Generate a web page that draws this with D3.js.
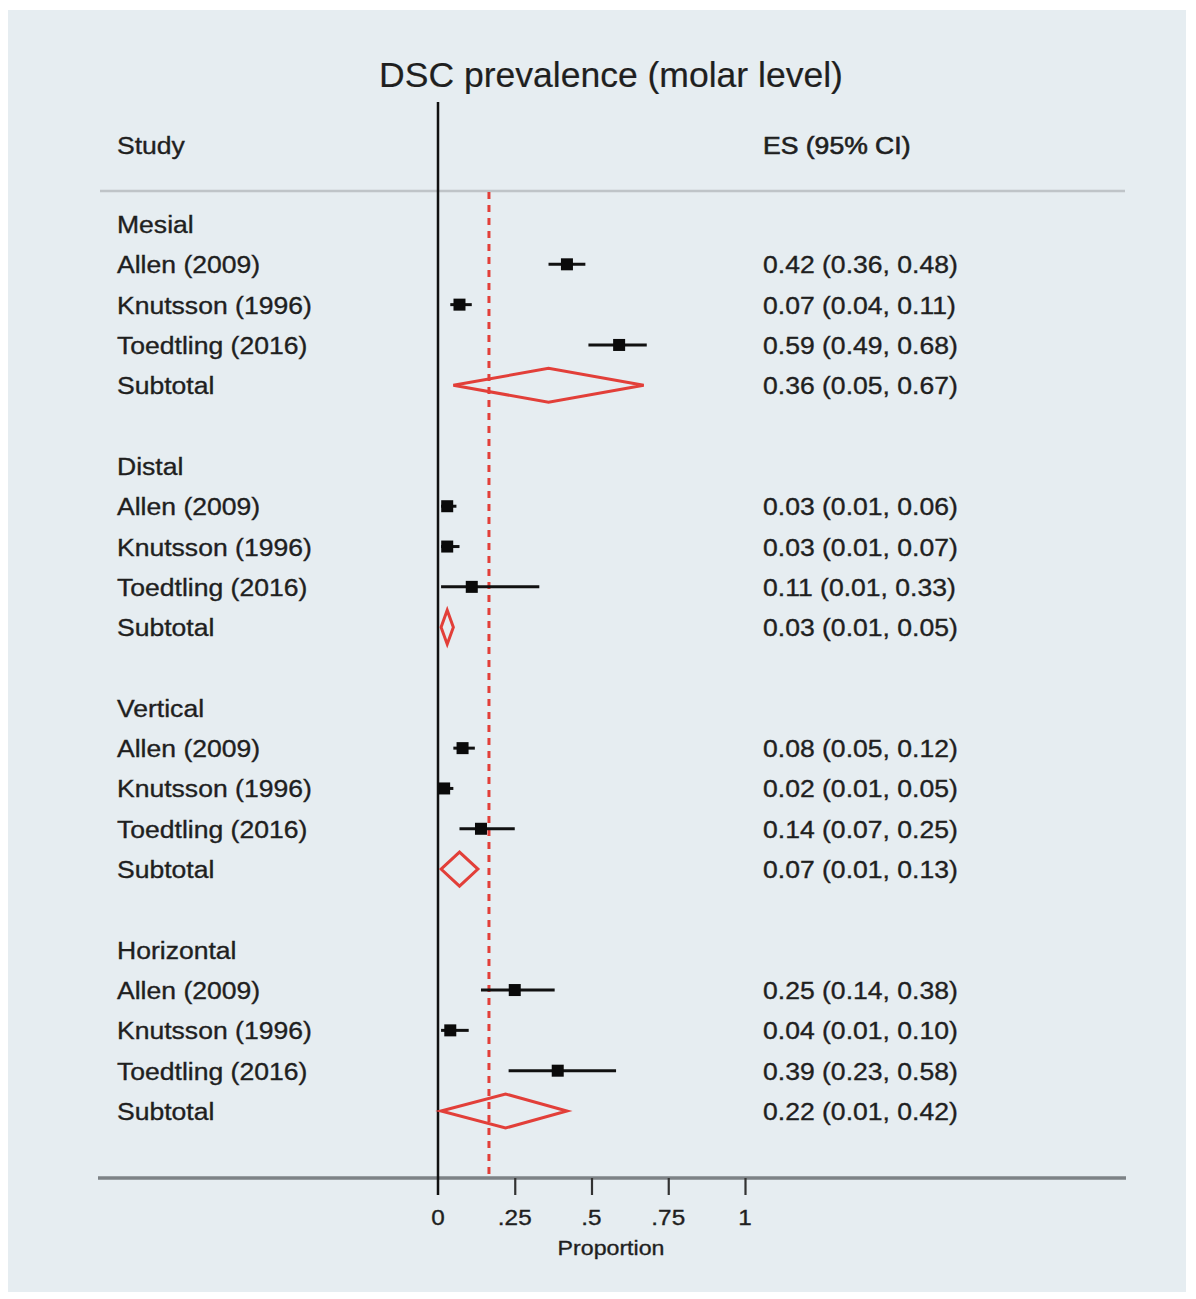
<!DOCTYPE html>
<html>
<head>
<meta charset="utf-8">
<script src="https://cdn.jsdelivr.net/npm/d3@7"></script>
<style>
  html, body { margin: 0; padding: 0; background: #ffffff; }
  svg { display: block; }
  text { font-family: "Liberation Sans", Arial, Helvetica, sans-serif; fill: #1f1f1f; stroke: #1f1f1f; stroke-width: 0.35px; }
</style>
</head>
<body>
<svg id="chart" width="1196" height="1299"></svg>
<script>
// Subgroups and studies of the forest plot
const groups = ["Mesial", "Distal", "Vertical", "Horizontal"];
const studies = ["Allen (2009)", "Knutsson (1996)", "Toedtling (2016)"];

// Per-study proportions (ES) and 95% CI, one row per group, study order as above
const esValues = [
  [0.42, 0.07, 0.59],
  [0.03, 0.03, 0.11],
  [0.08, 0.02, 0.14],
  [0.25, 0.04, 0.39]
];
const ciLow = [
  [0.36, 0.04, 0.49],
  [0.01, 0.01, 0.01],
  [0.05, 0.01, 0.07],
  [0.14, 0.01, 0.23]
];
const ciHigh = [
  [0.48, 0.11, 0.68],
  [0.06, 0.07, 0.33],
  [0.12, 0.05, 0.25],
  [0.38, 0.10, 0.58]
];

// Pooled subtotals per group
const subES = [0.36, 0.03, 0.07, 0.22];
const subLow = [0.05, 0.01, 0.01, 0.01];
const subHigh = [0.67, 0.05, 0.13, 0.42];

// Overall pooled estimate (reference line)
const overallES = 0.166;

// Axis ticks
const tickValues = [0, 0.25, 0.5, 0.75, 1];
const tickLabels = ["0", ".25", ".5", ".75", "1"];

const fmt = d3.format(".2f");
const svg = d3.select("#chart");

const RED = "#e23f39";
const TX = 1.13; // horizontal text stretch

// Panel background
svg.append("rect")
  .attr("x", 8).attr("y", 10).attr("width", 1178).attr("height", 1282)
  .attr("fill", "#e6edf1");

// Build row list: group header, three studies, subtotal, blank
const rows = [];
groups.forEach((g, gi) => {
  rows.push({ type: "header", label: g });
  studies.forEach((s, si) => {
    rows.push({ type: "study", label: s, es: esValues[gi][si], lo: ciLow[gi][si], hi: ciHigh[gi][si] });
  });
  rows.push({ type: "subtotal", label: "Subtotal", es: subES[gi], lo: subLow[gi], hi: subHigh[gi] });
  if (gi < groups.length - 1) rows.push({ type: "blank" });
});

const x = d3.scaleLinear().domain([0, 1]).range([438, 745]);
const y = d3.scaleLinear().domain([0, rows.length - 1]).range([224, 1111]);

const axisY = 1178;
const headerLineY = 191;

function stretchedText(sel, tx, ty, str, size, anchor) {
  return sel.append("text")
    .attr("transform", `translate(${tx},${ty}) scale(${TX},1)`)
    .attr("text-anchor", anchor || "start")
    .attr("font-size", size)
    .text(str);
}

// Title
svg.append("text")
  .attr("transform", "translate(611,87) scale(1.015,1)")
  .attr("text-anchor", "middle")
  .attr("font-size", 35)
  .style("stroke-width", "0.2px")
  .text("DSC prevalence (molar level)");

// Column headers
stretchedText(svg, 117, 154, "Study", 23.5);
stretchedText(svg, 763, 154, "ES (95% CI)", 23.5).style("stroke-width", "0.6px");

// Header separator
svg.append("line")
  .attr("x1", 100).attr("x2", 1125)
  .attr("y1", headerLineY).attr("y2", headerLineY)
  .attr("stroke", "#bfc4c8").attr("stroke-width", 2.5);

// Bottom axis line
svg.append("line")
  .attr("x1", 98).attr("x2", 1126)
  .attr("y1", axisY).attr("y2", axisY)
  .attr("stroke", "#7d8286").attr("stroke-width", 3.5);

// Null line at 0
svg.append("line")
  .attr("x1", x(0)).attr("x2", x(0))
  .attr("y1", 102).attr("y2", 1195)
  .attr("stroke", "#111").attr("stroke-width", 2.5);

// Overall estimate dashed line
svg.append("line")
  .attr("x1", x(overallES)).attr("x2", x(overallES))
  .attr("y1", headerLineY + 1).attr("y2", axisY - 2)
  .attr("stroke", RED).attr("stroke-width", 3)
  .attr("stroke-dasharray", "7,6");

// Axis ticks and labels
const axis = d3.axisBottom(x)
  .tickValues(tickValues.slice(1))
  .tickSize(17)
  .tickFormat("");
const axisG = svg.append("g").attr("transform", `translate(0,${axisY})`).call(axis);
axisG.select(".domain").remove();
axisG.selectAll(".tick line").attr("stroke", "#333").attr("stroke-width", 2.2);

tickValues.forEach((v, i) => {
  stretchedText(svg, x(v), 1225, tickLabels[i], 21.5, "middle");
});
stretchedText(svg, 611, 1255, "Proportion", 20.5, "middle");

// Rows
rows.forEach((r, i) => {
  const cy = y(i);
  if (r.type === "blank") return;
  stretchedText(svg, 117, cy + 9, r.label, 23.5);
  if (r.type === "header") return;

  stretchedText(svg, 763, cy + 9, `${fmt(r.es)} (${fmt(r.lo)}, ${fmt(r.hi)})`, 23.5);

  if (r.type === "study") {
    svg.append("line")
      .attr("x1", x(r.lo)).attr("x2", x(r.hi))
      .attr("y1", cy).attr("y2", cy)
      .attr("stroke", "#111").attr("stroke-width", 3);
    svg.append("rect")
      .attr("x", x(r.es) - 6).attr("y", cy - 6)
      .attr("width", 12).attr("height", 12)
      .attr("fill", "#0a0a0a");
  } else {
    const h = 17;
    const pts = [[x(r.lo), cy], [x(r.es), cy - h], [x(r.hi), cy], [x(r.es), cy + h]];
    svg.append("path")
      .attr("d", d3.line()(pts) + "Z")
      .attr("fill", "none")
      .attr("stroke", RED).attr("stroke-width", 3)
      .attr("stroke-linejoin", "miter");
  }
});
</script>
</body>
</html>
